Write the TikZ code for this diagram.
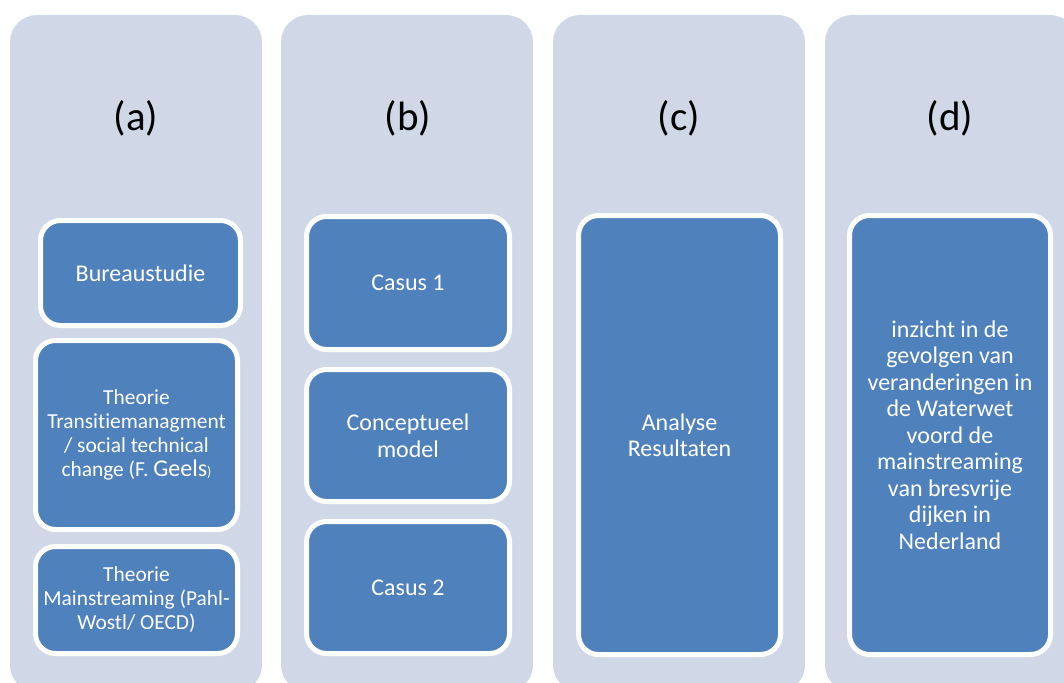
\documentclass[tikz,border=0pt]{standalone}
\usepackage{fontspec}
\setmainfont{Carlito}[Ligatures=NoCommon]
\definecolor{colbg}{HTML}{D0D8E8}
\definecolor{boxblue}{HTML}{4F81BD}
\begin{document}
\begin{tikzpicture}[x=1pt,y=-1pt,
  column/.style={fill=colbg,draw=none,rounded corners=27pt},
  stage/.style={font=\fontsize{41}{45}\selectfont,text=black,inner sep=0pt},
  block/.style={rectangle,rounded corners=20pt,fill=boxblue,draw=white,
    line width=5pt,inner sep=0pt,text=white,align=center,
    font=\fontsize{24}{26.5}\selectfont},
  smallblock/.style={block,font=\fontsize{21.4}{24}\selectfont}]
\useasboundingbox (0,0) rectangle (1064,682);
\clip (0,0) rectangle (1064,682);

% four column panels
\fill[column] (10,15) rectangle (262,692);
\fill[column] (281,15) rectangle (533,692);
\fill[column] (553,15) rectangle (805,692);
\fill[column] (825,15) rectangle (1077,692);

% panel labels
\node[stage] (la) at (136,118) {(a)};
\node[stage] (lb) at (408,118) {(b)};
\node[stage] (lc) at (679,118) {(c)};
\node[stage] (ld) at (950,118) {(d)};

% column (a)
\node[block,minimum width=200pt,minimum height=105pt] (bureau) at (140.5,273) {Bureaustudie};
\node[smallblock,minimum width=202pt,minimum height=189pt] (transitie) at (136.5,435)
  {Theorie\\Transitiemanagment\\/ social technical\\change (F. {\fontsize{24}{24}\selectfont Geels}{\fontsize{14}{24}\selectfont)}};
\node[smallblock,minimum width=202pt,minimum height=107pt] (mainstr) at (136.5,600)
  {Theorie\\Mainstreaming (Pahl-\\Wostl/ OECD)};

% column (b)
\node[block,minimum width=203pt,minimum height=133pt] (casus1) at (408,283) {Casus 1};
\node[block,minimum width=203pt,minimum height=132pt] (concept) at (408,435.5) {Conceptueel\\model};
\node[block,minimum width=203pt,minimum height=132pt] (casus2) at (408,587.5) {Casus 2};

% column (c)
\node[block,minimum width=202pt,minimum height=439pt] (analyse) at (679.5,435) {Analyse\\Resultaten};

% column (d)
\node[block,minimum width=201pt,minimum height=439pt] (inzicht) at (950,435)
  {inzicht in de\\gevolgen van\\veranderingen in\\de Waterwet\\voord de\\mainstreaming\\van bresvrije\\dijken in\\Nederland};
\end{tikzpicture}
\end{document}
